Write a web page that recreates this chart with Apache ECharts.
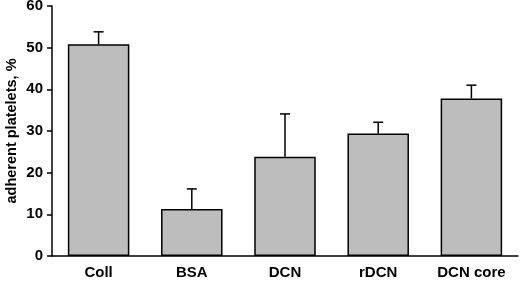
<!DOCTYPE html>
<html>
<head>
<meta charset="utf-8">
<script src="https://cdn.jsdelivr.net/npm/echarts@6/dist/echarts.min.js"></script>
<style>
  html, body { margin: 0; padding: 0; background: #fff; }
  #chart { width: 520px; height: 285px; }
</style>
</head>
<body>
<div id="chart"></div>
<script>
// data
var categories = ['Coll', 'BSA', 'DCN', 'rDCN', 'DCN core'];
var means = [50.8, 11.3, 23.8, 29.4, 37.8];
var errTops = [53.8, 16.1, 34.1, 32.1, 41.0];
var yTicks = [0, 10, 20, 30, 40, 50, 60];

var chart = echarts.init(document.getElementById('chart'));

var errData = categories.map(function (c, i) {
    return [i, means[i], errTops[i]];
});

var option = {
    animation: false,
    grid: {
        left: 52,
        right: 2,
        top: 6,
        bottom: 29,
        containLabel: false,
        outerBoundsMode: 'none'
    },
    xAxis: {
        type: 'category',
        data: categories,
        axisLine: { lineStyle: { color: '#000', width: 1.5 } },
        axisTick: { show: false },
        axisLabel: {
            color: '#000',
            fontFamily: 'Liberation Sans',
            fontWeight: 'bold',
            fontSize: 15,
            margin: 9
        }
    },
    yAxis: {
        type: 'value',
        min: yTicks[0],
        max: yTicks[yTicks.length - 1],
        interval: 10,
        name: 'adherent platelets, %',
        nameLocation: 'middle',
        nameGap: 33,
        nameMoveOverlap: false,
        nameTextStyle: {
            color: '#000',
            fontFamily: 'Liberation Sans',
            fontWeight: 'bold',
            fontSize: 14.5
        },
        axisLine: { show: true, lineStyle: { color: '#000', width: 1.5 } },
        axisTick: { show: true, length: 5, lineStyle: { color: '#000', width: 1.5 } },
        splitLine: { show: false },
        axisLabel: {
            color: '#000',
            fontFamily: 'Liberation Sans',
            fontWeight: 'bold',
            fontSize: 15,
            margin: 9
        }
    },
    series: [
        {
            type: 'bar',
            data: means,
            barWidth: '66%',
            itemStyle: {
                color: '#bdbdbd',
                borderColor: '#000',
                borderWidth: 1.5
            },
            z: 2
        },
        {
            type: 'custom',
            data: errData,
            z: 1,
            renderItem: function (params, api) {
                var x = api.value(0);
                var base = api.coord([x, api.value(1)]);
                var top = api.coord([x, api.value(2)]);
                var cap = 5;
                var style = { stroke: '#000', lineWidth: 1.5 };
                return {
                    type: 'group',
                    children: [
                        { type: 'line', shape: { x1: base[0], y1: base[1], x2: top[0], y2: top[1] }, style: style },
                        { type: 'line', shape: { x1: top[0] - cap, y1: top[1], x2: top[0] + cap, y2: top[1] }, style: style }
                    ]
                };
            }
        }
    ]
};

chart.setOption(option);
</script>
</body>
</html>
